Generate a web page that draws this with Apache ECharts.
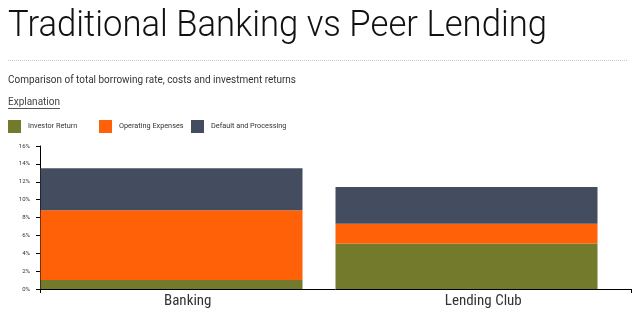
<!DOCTYPE html>
<html>
<head>
<meta charset="utf-8">
<script src="https://cdn.jsdelivr.net/npm/echarts@6/dist/echarts.min.js"></script>
<style>
html,body{margin:0;padding:0;background:#fff;}
#chart{width:640px;height:316px;}
</style>
</head>
<body>
<div id="chart"></div>
<script>
// ---- data ----
const categories = ['Banking', 'Lending Club'];
const investorReturn = [1.0, 5.1];
const operatingExpenses = [7.8, 2.2];
const defaultProcessing = [4.7, 4.1];
const seriesNames = ['Investor Return', 'Operating Expenses', 'Default and Processing'];
const yMin = 0, yMax = 16, yStep = 2;
const titleText = 'Traditional Banking vs Peer Lending';
const subtitleText = 'Comparison of total borrowing rate, costs and investment returns';
const explanationText = 'Explanation';

// ---- helpers ----
const ctx = document.createElement('canvas').getContext('2d');
function fit(text, font, target) { ctx.font = font; return target / ctx.measureText(text).width; }

const titleFont = '300 37px Roboto';
const subFont = '400 11px Roboto';
const explFont = '400 11px Roboto';
const titleScale = fit(titleText, titleFont, 539);
const subScale = fit(subtitleText, subFont, 288);
const explScale = fit(explanationText, explFont, 52);

const colors = ['#737a2b', '#ff6109', '#434d5f'];
const legendLeft = [8, 99, 191];

const chart = echarts.init(document.getElementById('chart'), null, { renderer: 'canvas' });
const option = {
  animation: false,
  color: colors,
  legend: seriesNames.map((n, i) => ({
    left: legendLeft[i], top: 120, padding: 0, itemWidth: 13, itemHeight: 13,
    icon: 'rect', data: [n],
    textStyle: { fontSize: 7.3, color: '#333', fontFamily: 'Roboto', padding: [0, 0, 0, 2] }
  })),
  grid: [
    { left: 40, right: 9, top: 146, bottom: 27, containLabel: false },
    { left: 24, right: 26, top: 146, bottom: 27, containLabel: false }
  ],
  xAxis: [
    {
      type: 'category', gridIndex: 0, data: categories, position: 'bottom',
      axisLine: { lineStyle: { color: '#000', width: 1 } },
      axisTick: { alignWithLabel: true, length: 4, lineStyle: { color: '#000' } },
      axisLabel: { fontSize: 15, color: '#333', margin: 5,
        fontFamily: "'Roboto Condensed','Liberation Sans Narrow','DejaVu Sans Condensed',Roboto" },
      splitLine: { show: false }
    },
    {
      type: 'value', gridIndex: 0, min: 0, max: 2, interval: 2, position: 'bottom',
      axisLine: { show: false },
      axisTick: { show: true, length: 4, lineStyle: { color: '#000' } },
      axisLabel: { show: false }, splitLine: { show: false }
    },
    {
      type: 'category', gridIndex: 1, data: categories, show: false
    }
  ],
  yAxis: [
    {
      type: 'value', gridIndex: 0, min: yMin, max: yMax, interval: yStep,
      axisLine: { show: true, lineStyle: { color: '#000' } },
      axisTick: { show: true, length: 4, lineStyle: { color: '#000' } },
      axisLabel: { formatter: '{value}%', fontSize: 6, color: '#333', margin: 10, fontFamily: 'Roboto' },
      splitLine: { show: false }
    },
    { type: 'value', gridIndex: 1, min: yMin, max: yMax, show: false, splitLine: { show: false } }
  ],
  series: [
    { name: seriesNames[0], type: 'bar', stack: 's', xAxisIndex: 2, yAxisIndex: 1, barWidth: 262, data: investorReturn },
    { name: seriesNames[1], type: 'bar', stack: 's', xAxisIndex: 2, yAxisIndex: 1, barWidth: 262, data: operatingExpenses },
    { name: seriesNames[2], type: 'bar', stack: 's', xAxisIndex: 2, yAxisIndex: 1, barWidth: 262, data: defaultProcessing }
  ],
  graphic: [
    { type: 'text', x: 8, y: 8, scaleX: titleScale,
      style: { text: titleText, font: titleFont, fill: '#111', textBaseline: 'top' } },
    { type: 'line', shape: { x1: 8, y1: 60.5, x2: 628, y2: 60.5 },
      style: { stroke: '#c8c8c8', lineWidth: 1, lineDash: [1, 1] } },
    { type: 'text', x: 8, y: 75, scaleX: subScale,
      style: { text: subtitleText, font: subFont, fill: '#333', textBaseline: 'top' } },
    { type: 'text', x: 8, y: 97, scaleX: explScale,
      style: { text: explanationText, font: explFont, fill: '#444', textBaseline: 'top' } },
    { type: 'line', shape: { x1: 8, y1: 108.5, x2: 60, y2: 108.5 },
      style: { stroke: '#555', lineWidth: 1 } }
  ]
};
chart.setOption(option);
</script>
</body>
</html>
